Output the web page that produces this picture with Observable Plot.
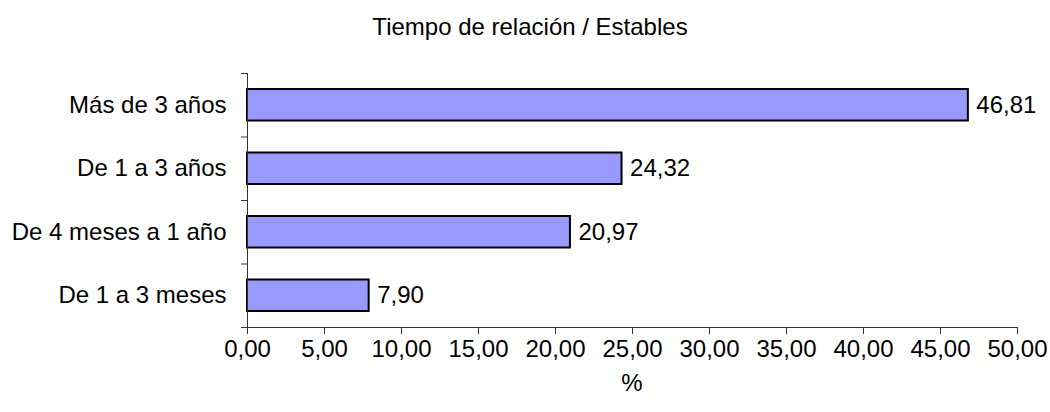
<!DOCTYPE html>
<html>
<head>
<meta charset="utf-8">
<script src="https://cdn.jsdelivr.net/npm/d3@7"></script>
<script src="https://cdn.jsdelivr.net/npm/@observablehq/plot@0.6"></script>
<style>
  body { margin: 0; background: #fff; font-family: "Liberation Sans", Arial, sans-serif; }
  #title { width: 1060px; height: 55px; text-align: center; font-size: 24px; line-height: 24px; padding-top: 15px; box-sizing: border-box; color: #000; }
</style>
</head>
<body>
<div id="title">Tiempo de relación / Estables</div>
<div id="chart"></div>
<script>
const categories = ["Más de 3 años", "De 1 a 3 años", "De 4 meses a 1 año", "De 1 a 3 meses"];
const values = [46.81, 24.32, 20.97, 7.90];
const xTicks = [0, 5, 10, 15, 20, 25, 30, 35, 40, 45, 50];
const xLabel = "%";

const data = categories.map((c, i) => ({cat: c, idx: i, value: values[i]}));
const fmt = d => d.toFixed(2).replace(".", ",");
const n = categories.length;
const bounds = d3.range(n + 1);

const chart = Plot.plot({
  width: 1050,
  height: 357,
  marginLeft: 247,
  marginRight: 33,
  marginTop: 18,
  marginBottom: 85,
  style: {fontFamily: "'Liberation Sans', Arial, sans-serif", fontSize: "24px", color: "#000", background: "#fff"},
  x: {domain: [0, 50], label: null},
  y: {domain: [0, n], reverse: true, axis: null},
  marks: [
    Plot.rectX(data, {x1: 0, x2: "value", y1: d => d.idx, y2: d => d.idx + 1, insetTop: 16, insetBottom: 16, fill: "#9999FF", stroke: "#000", strokeWidth: 2}),
    Plot.text(data, {x: "value", y: d => d.idx + 0.5, text: d => fmt(d.value), textAnchor: "start", dx: 8, fontSize: 24, fill: "#000"}),
    Plot.axisY(bounds, {tickSize: 6, tickFormat: () => "", stroke: "#333"}),
    Plot.axisY(data.map(d => d.idx + 0.5), {tickSize: 0, tickPadding: 21, tickFormat: v => categories[Math.floor(v)], fontSize: 24, fill: "#000", label: null}),
    Plot.axisX(xTicks, {tickSize: 7, tickPadding: 5, tickFormat: fmt, fontSize: 24, fill: "#000", stroke: "#333", label: null}),
    Plot.ruleX([0], {stroke: "#333"}),
    Plot.ruleY([n], {stroke: "#333"})
  ]
});
document.getElementById("chart").appendChild(chart);
const lbl = document.createElement("div");
lbl.textContent = xLabel;
lbl.style.cssText = "position:absolute; left:247px; width:770px; top:371px; text-align:center; font-size:24px; line-height:24px;";
document.body.appendChild(lbl);
</script>
</body>
</html>
